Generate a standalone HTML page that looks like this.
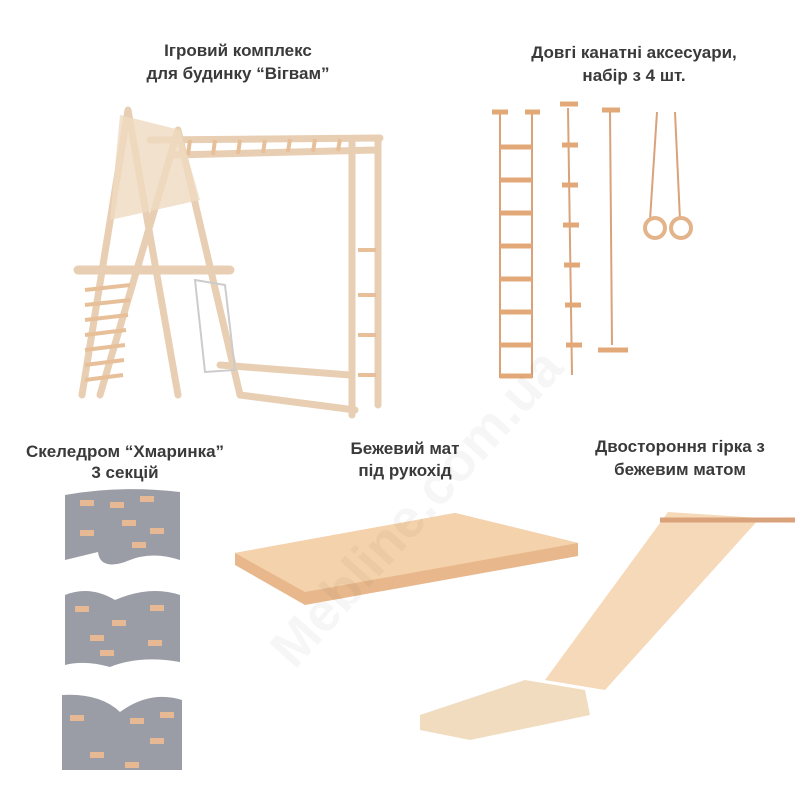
<!DOCTYPE html>
<html><head><meta charset="utf-8"><style>
body{margin:0;background:#fff;width:800px;height:800px;overflow:hidden}
svg{display:block}
text{font-family:"Liberation Sans",sans-serif;font-weight:bold;font-size:17px;fill:#3a3a3a}
</style></head><body>
<svg width="800" height="800" viewBox="0 0 800 800">
<rect width="800" height="800" fill="#fff"/>
<g text-anchor="middle">
<text x="238" y="56">Ігровий комплекс</text>
<text x="238" y="79">для будинку “Вігвам”</text>
<text x="634" y="58">Довгі канатні аксесуари,</text>
<text x="634" y="81">набір з 4 шт.</text>
<text x="125" y="457">Скеледром “Хмаринка”</text>
<text x="125" y="478">3 секцій</text>
<text x="405" y="454">Бежевий мат</text>
<text x="405" y="476">під рукохід</text>
<text x="680" y="452">Двостороння гірка з</text>
<text x="680" y="475">бежевим матом</text>
</g>
<g stroke="#e8cfb3" stroke-width="7" fill="none" stroke-linecap="round">
<path d="M128 110 L82 395 M128 110 L178 395 M178 130 L240 395 M178 130 L100 395"/>
<path d="M150 140 L380 138 M175 155 L375 150 M352 140 L352 415 M378 140 L378 405"/>
<path d="M240 395 L355 410 M220 365 L350 375"/>
<path d="M78 270 L230 270" stroke-width="9"/>
</g>
<g stroke="#e7c09a" stroke-width="4">
<path d="M190 140 L188 155 M215 140 L213 155 M240 140 L238 154 M265 140 L263 153 M290 139 L288 152 M315 139 L313 152 M340 139 L338 151"/>
<path d="M85 290 L130 285 M85 305 L130 300 M85 320 L128 315 M85 335 L126 330 M85 350 L125 345 M85 365 L124 360 M85 380 L123 375"/>
<path d="M358 250 L376 250 M358 295 L376 295 M358 335 L376 335 M358 375 L376 375"/>
</g>
<path d="M120 115 L180 130 L200 200 L110 220 Z" fill="#efd9c0" opacity=".8"/>
<path d="M195 280 L225 285 L235 370 L205 372 Z" fill="none" stroke="#ccc" stroke-width="2"/>
<g stroke="#d9a27a" stroke-width="2" fill="none">
<path d="M500 112 L500 378 M532 112 L532 378"/>
<path d="M568 108 L572 375 M610 112 L612 345 M657 112 L650 220 M675 112 L680 220"/>
</g>
<g stroke="#e3a878" stroke-width="5">
<path d="M500 147 L532 147 M500 180 L532 180 M500 213 L532 213 M500 246 L532 246 M500 279 L532 279 M500 312 L532 312 M500 345 L532 345 M500 376 L532 376"/>
<path d="M562 145 L578 145 M562 185 L578 185 M563 225 L579 225 M564 265 L580 265 M565 305 L581 305 M566 345 L582 345"/>
<path d="M598 350 L628 350"/>
<path d="M492 112 L508 112 M525 112 L540 112 M560 104 L578 104 M602 110 L620 110"/>
</g>
<circle cx="655" cy="228" r="10" fill="none" stroke="#e3b48a" stroke-width="4"/>
<circle cx="681" cy="228" r="10" fill="none" stroke="#e3b48a" stroke-width="4"/>
<g fill="#9a9ca6">
<path d="M65 495 Q120 485 180 492 L180 560 Q150 550 125 562 Q100 570 98 552 L65 560 Z"/>
<path d="M65 595 Q90 585 115 600 Q150 585 180 595 L180 662 Q140 655 110 667 Q85 660 65 665 Z"/>
<path d="M62 695 Q100 693 120 712 Q150 690 182 700 L182 770 L62 770 Z"/>
</g>
<g fill="#e6b994">
<rect x="80" y="500" width="14" height="6"/><rect x="110" y="502" width="14" height="6"/><rect x="140" y="496" width="14" height="6"/><rect x="122" y="520" width="14" height="6"/><rect x="150" y="528" width="14" height="6"/><rect x="80" y="530" width="14" height="6"/><rect x="132" y="542" width="14" height="6"/>
<rect x="75" y="606" width="14" height="6"/><rect x="150" y="605" width="14" height="6"/><rect x="112" y="620" width="14" height="6"/><rect x="90" y="635" width="14" height="6"/><rect x="148" y="640" width="14" height="6"/><rect x="100" y="650" width="14" height="6"/>
<rect x="70" y="715" width="14" height="6"/><rect x="130" y="718" width="14" height="6"/><rect x="160" y="712" width="14" height="6"/><rect x="150" y="738" width="14" height="6"/><rect x="90" y="752" width="14" height="6"/><rect x="125" y="762" width="14" height="6"/>
</g>
<path d="M235 553 L455 513 L578 543 L578 556 L305 605 L235 565 Z" fill="#e8b88c"/>
<path d="M235 553 L455 513 L578 543 L305 592 Z" fill="#f4d2ab"/>
<path d="M668 512 L760 518 L605 690 L545 680 Z" fill="#f6d9b8"/>
<path d="M660 520 L795 520" stroke="#d9a27a" stroke-width="5"/>
<path d="M420 715 L525 680 L585 690 L590 715 L470 740 L420 730 Z" fill="#f1dcc0"/>
<text x="430" y="520" transform="rotate(-48 430 520)" style="font-size:54px;fill:#000;opacity:.03" text-anchor="middle">Mebline.com.ua</text>
</svg>
</body></html>
